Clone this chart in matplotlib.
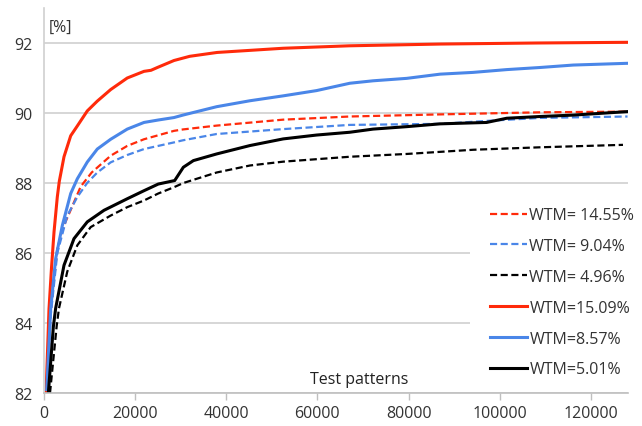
import matplotlib
matplotlib.use("Agg")
import matplotlib.pyplot as plt
from matplotlib.patches import Rectangle

plt.rcParams['font.family'] = ['Open Sans', 'DejaVu Sans']

# ---- data ----
red_solid_x = [500, 1140, 1700, 2240, 2960, 3400, 4430, 5900, 7350, 9540, 11730, 14670, 18300,
               21970, 23500, 24900, 28550, 32000, 38000, 52500, 67000, 87000, 108000, 128000]
red_solid_y = [82.0, 84.4, 85.6, 86.6, 87.6, 88.05, 88.75, 89.35, 89.63, 90.06, 90.34, 90.67, 91.0,
               91.19, 91.22, 91.3, 91.5, 91.62, 91.73, 91.85, 91.92, 91.97, 92.0, 92.02]

blue_solid_x = [640, 1510, 2600, 4070, 5900, 7350, 9540, 11730, 14670, 18300, 21970, 25100, 28550,
                30500, 37900, 45200, 52500, 59800, 67100, 72200, 79600, 86900, 94100, 101500,
                108800, 116100, 128000]
blue_solid_y = [82.1, 84.4, 85.84, 86.79, 87.7, 88.12, 88.6, 88.97, 89.25, 89.54, 89.73, 89.8, 89.87,
                89.94, 90.18, 90.35, 90.49, 90.64, 90.85, 90.92, 90.99, 91.11, 91.16, 91.24,
                91.3, 91.37, 91.42]

red_dash_x = [600, 1500, 2960, 4430, 6620, 8100, 10500, 14670, 18300, 21970, 28550, 30500, 37900,
              52500, 67100, 86900, 108800, 128000]
red_dash_y = [82.0, 84.3, 86.13, 86.79, 87.45, 87.9, 88.3, 88.78, 89.06, 89.25, 89.49, 89.53, 89.64,
              89.81, 89.9, 89.96, 90.02, 90.04]

blue_dash_x = [600, 1500, 2960, 5150, 7350, 9500, 11730, 14670, 18300, 21970, 28550, 30500, 37900,
               52500, 67100, 86900, 97900, 108800, 128000]
blue_dash_y = [82.0, 84.2, 86.0, 87.07, 87.6, 88.0, 88.3, 88.59, 88.8, 88.97, 89.16, 89.22, 89.4,
               89.54, 89.66, 89.69, 89.78, 89.86, 89.9]

black_solid_x = [1000, 2100, 2600, 4430, 6620, 9540, 13200, 18300, 21970, 25100, 28700, 30600,
                 32800, 37900, 45200, 52500, 59800, 67100, 72200, 79600, 86900, 97100, 101500,
                 108800, 116100, 128000]
black_solid_y = [82.0, 83.9, 84.42, 85.65, 86.41, 86.89, 87.22, 87.55, 87.78, 87.97, 88.07, 88.45,
                 88.64, 88.83, 89.07, 89.26, 89.37, 89.45, 89.54, 89.61, 89.69, 89.73, 89.85,
                 89.9, 89.94, 90.04]

black_dash_x = [1360, 2830, 3330, 5150, 7350, 10280, 14670, 18300, 21970, 25100, 28550, 30600,
                37900, 45200, 52500, 67100, 79600, 94200, 108800, 127000]
black_dash_y = [82.0, 83.92, 84.42, 85.47, 86.22, 86.74, 87.07, 87.31, 87.5, 87.7, 87.88, 88.0,
                88.3, 88.5, 88.61, 88.75, 88.83, 88.95, 89.02, 89.09]

labels = ['WTM= 14.55%', 'WTM= 9.04%', 'WTM= 4.96%', 'WTM=15.09%', 'WTM=8.57%', 'WTM=5.01%']
x_ticks = [0, 20000, 40000, 60000, 80000, 100000, 120000]
y_ticks = [82, 84, 86, 88, 90, 92]

RED = '#FF2A0A'
BLUE = '#4A86E8'
BLACK = '#000000'

fig = plt.figure(figsize=(6.42, 4.27), dpi=100)
ax = fig.add_axes([43.8 / 642, 1 - 394 / 427, (628 - 43.8) / 642, (394 - 9) / 427])

dash = (0, (3.2, 1.6))
ax.plot(red_dash_x, red_dash_y, color=RED, lw=1.6, linestyle=dash, label=labels[0])
ax.plot(blue_dash_x, blue_dash_y, color=BLUE, lw=1.6, linestyle=dash, label=labels[1])
ax.plot(black_dash_x, black_dash_y, color=BLACK, lw=1.6, linestyle=dash, label=labels[2])
ax.plot(red_solid_x, red_solid_y, color=RED, lw=2.2, label=labels[3])
ax.plot(blue_solid_x, blue_solid_y, color=BLUE, lw=2.2, label=labels[4])
ax.plot(black_solid_x, black_solid_y, color=BLACK, lw=2.2, label=labels[5])

ax.set_xlim(0, 128100)
ax.set_ylim(82, 93)
ax.set_xticks(x_ticks)
ax.set_xticklabels([str(t) for t in x_ticks])
ax.set_yticks(y_ticks)
ax.set_yticklabels([str(t) for t in y_ticks])
ax.tick_params(axis='x', length=5, width=1, color='#BFBFBF', labelsize=11.5, pad=4, labelcolor='#333333')
ax.tick_params(axis='y', length=0, labelsize=11.5, pad=8, labelcolor='#333333')

ax.grid(axis='y', color='#D0D0D0', lw=1.2)
ax.set_axisbelow(True)
for s in ['top', 'right']:
    ax.spines[s].set_visible(False)
ax.spines['left'].set_color('#D0D0D0')
ax.spines['bottom'].set_color('#BFBFBF')
ax.spines['left'].set_linewidth(1.2)
ax.spines['bottom'].set_linewidth(1.2)

# white legend area that hides the gridlines behind it
ax.add_patch(Rectangle((470 / 642, 1 - 385 / 427), (642 - 470) / 642, (385 - 192) / 427,
                       transform=fig.transFigure, facecolor='white', edgecolor='none', zorder=1))

ax.text(1000, 92.46, '[%]', fontsize=11.5, color='#333333', va='center', ha='left')
ax.text(58400, 82.4, 'Test patterns', fontsize=11.5, color='#222222', va='center', ha='left')

leg = ax.legend(loc='upper left', bbox_to_anchor=(487 / 642, 1 - 205 / 427),
                bbox_transform=fig.transFigure, frameon=True, fontsize=11.5,
                handlelength=2.3, handletextpad=0.15, labelspacing=0.93,
                borderpad=0.2, borderaxespad=0)
leg.get_frame().set_facecolor('white')
leg.get_frame().set_edgecolor('none')
leg.get_frame().set_alpha(1)
for t in leg.get_texts():
    t.set_color('#333333')

fig.savefig('out.png', dpi=100)
